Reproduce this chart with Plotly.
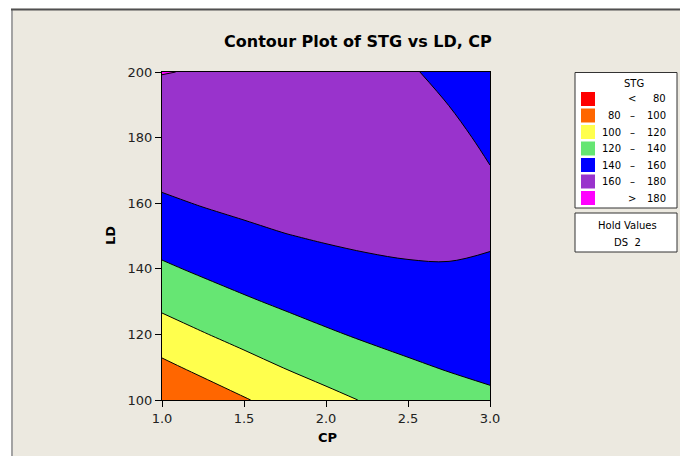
import plotly.graph_objects as go

# ---------------- data ----------------
CP = [1.0, 1.25, 1.5, 1.75, 2.0, 2.25, 2.5, 2.75, 3.0]
LD = [100, 110, 120, 130, 140, 150, 160, 170, 180, 190, 200]
STG = [
    [80.3, 89.3, 98.6, 107.2, 114.8, 121.5, 127.4, 132.4, 136.5],   # LD 100
    [95.7, 104.9, 113.2, 120.6, 127.1, 132.7, 137.4, 141.3, 144.3],  # LD 110
    [111.0, 119.0, 126.2, 132.5, 137.9, 142.4, 146.0, 148.8, 150.6], # LD 120
    [124.8, 131.7, 137.8, 142.9, 147.2, 150.6, 153.1, 154.8, 155.5], # LD 130
    [137.1, 143.0, 147.9, 151.9, 155.1, 157.4, 158.8, 159.3, 159.0], # LD 140
    [148.0, 152.7, 156.5, 159.5, 161.5, 162.7, 163.0, 162.4, 160.9], # LD 150
    [157.4, 161.0, 163.7, 165.5, 166.4, 166.5, 165.7, 164.0, 161.4], # LD 160
    [165.3, 167.8, 169.4, 170.1, 169.9, 168.8, 166.9, 164.1, 160.4], # LD 170
    [171.8, 173.1, 173.6, 173.2, 171.9, 169.7, 166.7, 162.7, 157.9], # LD 180
    [176.7, 177.0, 176.4, 174.8, 172.4, 169.1, 165.0, 159.9, 154.0], # LD 190
    [180.3, 179.4, 177.6, 175.0, 171.5, 167.1, 161.8, 155.6, 148.6], # LD 200
]
LEVELS = [80, 100, 120, 140, 160, 180]
X_TICKS = [1.0, 1.5, 2.0, 2.5, 3.0]
Y_TICKS = [100, 120, 140, 160, 180, 200]
TITLE = "Contour Plot of STG vs LD, CP"
HOLD_LABEL = "Hold Values"
HOLD_VALUE = "DS  2"

# ---------------- styles ----------------
BAND_COLORS = ["#FF0000", "#FF6600", "#FFFF4D", "#66E673", "#0000FF", "#9933CC", "#FF00FF"]
BEIGE = "#ECE9E0"
FONT = "DejaVu Sans"

W, H = 680, 456
PL, PR, PT, PB = 162, 490, 72, 400          # plot area in page pixels
ML, MR, MT, MB = PL, W - PR, PT, H - PB
PW, PH = PR - PL, PB - PT


def px(x):
    """page pixel x -> paper coordinate"""
    return (x - PL) / PW


def py(y):
    """page pixel y -> paper coordinate"""
    return (PB - y) / PH


n = len(BAND_COLORS)
colorscale = [[i / (n - 1), c] for i, c in enumerate(BAND_COLORS)]

fig = go.Figure()
fig.add_trace(go.Contour(
    x=CP, y=LD, z=STG,
    colorscale=colorscale,
    contours=dict(start=LEVELS[0], end=LEVELS[-1], size=LEVELS[1] - LEVELS[0],
                  coloring="fill", showlines=True),
    line=dict(color="black", width=1, smoothing=1),
    showscale=False,
    hoverinfo="x+y+z",
))

shapes = []
annotations = []

# frame of the Minitab panel
shapes.append(dict(type="rect", xref="paper", yref="paper",
                   x0=px(0), x1=px(11), y0=py(H), y1=py(0),
                   fillcolor="white", line=dict(width=0), layer="below"))
shapes.append(dict(type="rect", xref="paper", yref="paper",
                   x0=px(0), x1=px(W), y0=py(8.5), y1=py(0),
                   fillcolor="white", line=dict(width=0), layer="below"))
shapes.append(dict(type="line", xref="paper", yref="paper",
                   x0=px(12), x1=px(12), y0=py(9), y1=py(H),
                   line=dict(color="#A3A3A3", width=2)))
shapes.append(dict(type="line", xref="paper", yref="paper",
                   x0=px(11), x1=px(W), y0=py(9.5), y1=py(9.5),
                   line=dict(color="#505050", width=2)))

# legend boxes
shapes.append(dict(type="rect", xref="paper", yref="paper",
                   x0=px(575), x1=px(677), y0=py(208), y1=py(72.5),
                   fillcolor="white", line=dict(color="#333333", width=1)))
shapes.append(dict(type="rect", xref="paper", yref="paper",
                   x0=px(575), x1=px(677), y0=py(252), y1=py(213),
                   fillcolor="white", line=dict(color="#333333", width=1)))

annotations.append(dict(text="STG", xref="paper", yref="paper", x=px(634), y=py(83),
                        xanchor="center", yanchor="middle", showarrow=False,
                        font=dict(family=FONT, size=10, color="black")))

row0, dy = 99, 16.5
for i, col in enumerate(BAND_COLORS):
    yc = row0 + i * dy
    shapes.append(dict(type="rect", xref="paper", yref="paper",
                       x0=px(581), x1=px(595), y0=py(yc + 7), y1=py(yc - 7),
                       fillcolor=col, line=dict(width=0)))
    if i == 0:
        lo, sym, hi = "", "<", str(LEVELS[0])
    elif i == n - 1:
        lo, sym, hi = "", ">", str(LEVELS[-1])
    else:
        lo, sym, hi = str(LEVELS[i - 1]), "\u2013", str(LEVELS[i])
    for txt, xx, anc in ((lo, 623, "right"), (sym, 632, "center"), (hi, 668, "right")):
        if txt:
            annotations.append(dict(text=txt, xref="paper", yref="paper", x=px(xx), y=py(yc),
                                    xanchor=anc, yanchor="middle", showarrow=False,
                                    font=dict(family=FONT, size=10, color="black")))

annotations.append(dict(text=HOLD_LABEL, xref="paper", yref="paper", x=px(627), y=py(225.5),
                        xanchor="center", yanchor="middle", showarrow=False,
                        font=dict(family=FONT, size=10, color="black")))
annotations.append(dict(text=HOLD_VALUE, xref="paper", yref="paper", x=px(627), y=py(242),
                        xanchor="center", yanchor="middle", showarrow=False,
                        font=dict(family=FONT, size=10, color="black")))

# titles
annotations.append(dict(text="<b>" + TITLE + "</b>", xref="paper", yref="paper",
                        x=px(358), y=py(42), xanchor="center", yanchor="middle",
                        showarrow=False, font=dict(family=FONT, size=16, color="black")))
annotations.append(dict(text="<b>LD</b>", xref="paper", yref="paper",
                        x=px(110), y=py(236), xanchor="center", yanchor="middle",
                        textangle=-90, showarrow=False,
                        font=dict(family=FONT, size=13, color="black")))
annotations.append(dict(text="<b>CP</b>", xref="paper", yref="paper",
                        x=px(327), y=py(437), xanchor="center", yanchor="middle",
                        showarrow=False, font=dict(family=FONT, size=13, color="black")))

axis_common = dict(showline=True, linecolor="black", linewidth=1, mirror=True,
                   ticks="outside", ticklen=6, tickcolor="black", tickwidth=1,
                   showgrid=False, zeroline=False,
                   tickfont=dict(family=FONT, size=13, color="#222222"))

fig.update_layout(
    width=W, height=H, autosize=False,
    margin=dict(l=ML, r=MR, t=MT, b=MB, pad=0),
    paper_bgcolor=BEIGE, plot_bgcolor="white",
    xaxis=dict(range=[CP[0], CP[-1]], tickvals=X_TICKS,
               ticktext=[f"{v:.1f}" for v in X_TICKS], **axis_common),
    yaxis=dict(range=[LD[0], LD[-1]], tickvals=Y_TICKS,
               ticktext=[str(v) for v in Y_TICKS], **axis_common),
    shapes=shapes,
    annotations=annotations,
    showlegend=False,
)

# remove the browser's default page margin so the 680x456 figure fills the window
fig.write_html("out.html",
               config={"displayModeBar": False},
               post_script="document.body.style.margin='0';"
                           "document.body.style.overflow='hidden';")
